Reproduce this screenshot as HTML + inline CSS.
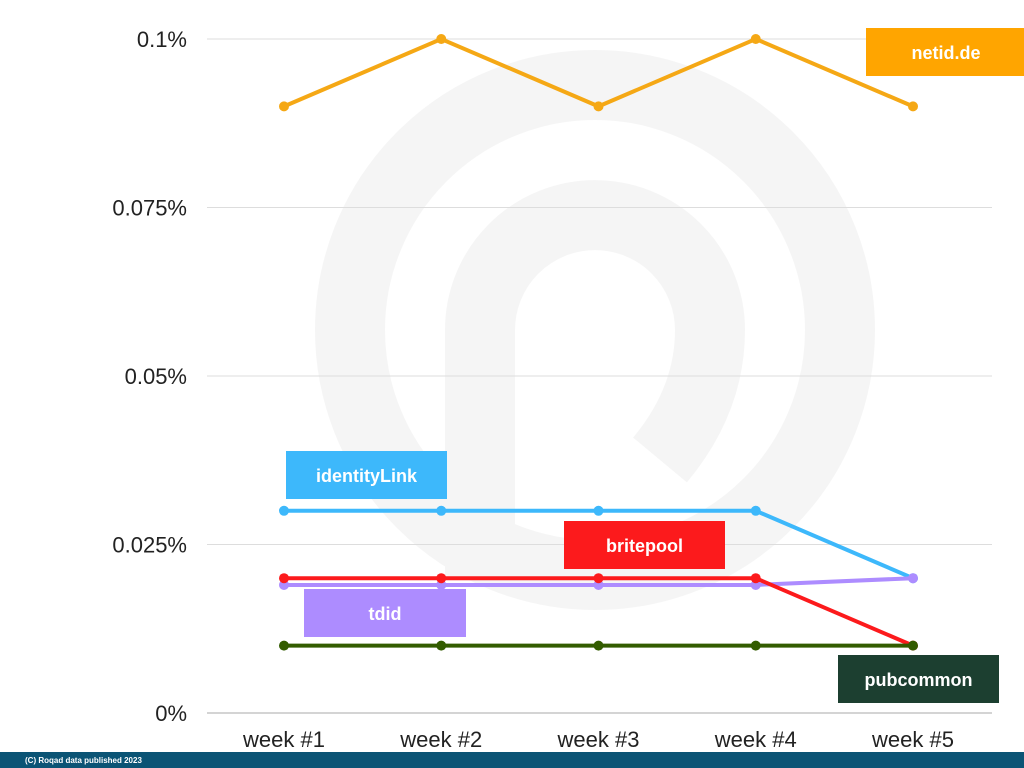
<!DOCTYPE html>
<html><head><meta charset="utf-8"><style>
body{margin:0;background:#fff;font-family:"Liberation Sans",sans-serif}
svg{display:block}
</style></head><body>
<svg width="1024" height="768" id="c">
<g opacity="0.055">
<circle cx="595" cy="330" r="245" fill="none" stroke="#555" stroke-width="70"/>
<path d="M480 580 V330 A115 115 0 0 1 710 330 Q710 400 660 460" fill="none" stroke="#555" stroke-width="70"/>
</g>
<g id="grid"></g><g id="series"></g><g id="labels"></g>
<rect x="0" y="752" width="1024" height="16" fill="#0b5475"/>
<text x="25" y="763" font-size="8" font-weight="bold" fill="#fff">(C) Roqad data published  2023</text>
</svg>
<script>
const categories=["week #1","week #2","week #3","week #4","week #5"];
const yTicks=[0,0.025,0.05,0.075,0.1];
const yTickLabels=["0%","0.025%","0.05%","0.075%","0.1%"];
const seriesNames=["netid.de","identityLink","britepool","tdid","pubcommon"];
const netid=[0.09,0.1,0.09,0.1,0.09];
const identityLink=[0.03,0.03,0.03,0.03,0.02];
const britepool=[0.02,0.02,0.02,0.02,0.01];
const tdid=[0.019,0.019,0.019,0.019,0.02];
const pubcommon=[0.01,0.01,0.01,0.01,0.01];
const NS="http://www.w3.org/2000/svg";
const x=i=>284+i*157.25, y=v=>713-v*6740;
function mk(t,a,p){const e=document.createElementNS(NS,t);for(const k in a)e.setAttribute(k,a[k]);p.appendChild(e);return e;}
const grid=document.getElementById('grid');
yTicks.forEach((v,i)=>{
 const l=mk('line',{x1:207,x2:992,y1:y(v),y2:y(v),stroke:i==0?'#aaa':'#ddd','stroke-width':1},grid);
 
 
 const t=mk('text',{x:187,y:y(v)+8,'text-anchor':'end','font-size':22,fill:'#222'},grid);
 t.textContent=yTickLabels[i];
 
 
});
categories.forEach((c,i)=>{
 const t=mk('text',{x:x(i),y:747,'text-anchor':'middle','font-size':22,fill:'#222'},grid);
 t.textContent=c;
 
 
});
const sg=document.getElementById('series');
const data=[[netid,'#f5a815'],[identityLink,'#3db8fb'],[tdid,'#ad8cff'],[britepool,'#fc1a1c'],[pubcommon,'#335c00']];
const nm=["netid.de","identityLink","tdid","britepool","pubcommon"];
data.forEach(([d,col],k)=>{
 const g=mk('g',{},sg);
 
 
 const p=mk('polyline',{points:d.map((v,i)=>x(i)+','+y(v)).join(' '),fill:'none',stroke:col,'stroke-width':4},g);
 
 
 d.forEach((v,i)=>{const c=mk('circle',{cx:x(i),cy:y(v),r:5,fill:col},g);
  
  });
});
const lg=document.getElementById('labels');
const boxes=[["netid.de",866,28,160,48,'#ffa500'],["identityLink",286,451,161,48,'#3db8fb'],["britepool",564,521,161,48,'#fc1a1c'],["tdid",304,589,162,48,'#ad8cff'],["pubcommon",838,655,161,48,'#1c3f30']];
boxes.forEach(([t,bx,by,w,h,col])=>{
 const g=mk('g',{},lg);
 
 
 mk('rect',{x:bx,y:by,width:w,height:h,fill:col},g);
 const tx=mk('text',{x:bx+w/2,y:by+31,'text-anchor':'middle','font-size':18,'font-weight':'bold',fill:'#fff'},g);
 tx.textContent=t;
});
</script>
</body></html>
